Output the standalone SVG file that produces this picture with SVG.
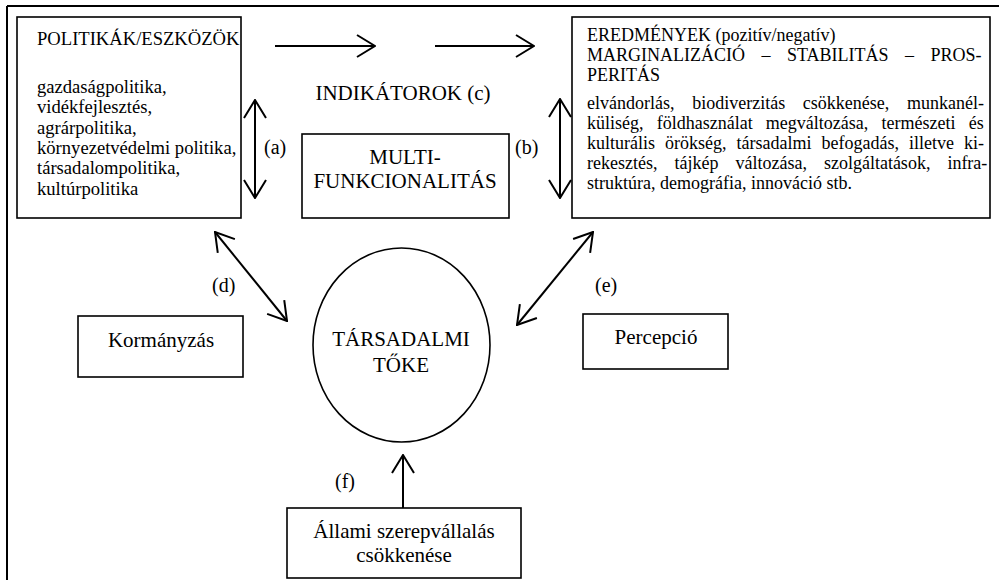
<svg xmlns="http://www.w3.org/2000/svg" width="999" height="580" viewBox="0 0 999 580">
  <defs>
    <marker id="head" viewBox="0 0 20 24" refX="19" refY="12" markerWidth="20" markerHeight="24" markerUnits="userSpaceOnUse" orient="auto-start-reverse">
      <path d="M1,1 L19,12 L1,23" fill="none" stroke="#000" stroke-width="2"/>
    </marker>
    <style>
      .box { fill: #fff; stroke: #000; stroke-width: 1.6; }
      .t { font-family: "Liberation Serif", "Times New Roman", serif; fill: #000; }
      .s18 { font-size: 18.6px; }
      .s18r { font-size: 18px; }
      .s21 { font-size: 21px; }
      .s20 { font-size: 20px; }
      .mid { text-anchor: middle; }
      .conn line { stroke: #000; stroke-width: 2; fill: none; }
    </style>
  </defs>
  <rect width="999" height="580" fill="#fff"/>
  <g id="frame">
    <line x1="7" y1="6" x2="999" y2="6" stroke="#000" stroke-width="2"/>
    <line x1="7" y1="6" x2="7" y2="580" stroke="#000" stroke-width="2"/>
  </g>

  <g id="politikak">
    <rect class="box" x="17" y="17" width="224" height="201"/>
    <text class="t s18" x="37" y="45">POLITIKÁK/ESZKÖZÖK</text>
    <text class="t s18" x="37" y="93">gazdaságpolitika,</text>
    <text class="t s18" x="37" y="113.3">vidékfejlesztés,</text>
    <text class="t s18" x="37" y="133.6">agrárpolitika,</text>
    <text class="t s18" x="37" y="153.9">környezetvédelmi politika,</text>
    <text class="t s18" x="37" y="174.2">társadalompolitika,</text>
    <text class="t s18" x="37" y="194.5">kultúrpolitika</text>
  </g>

  <g id="indikatorok">
    <text class="t s21 mid" x="403" y="100">INDIKÁTOROK (c)</text>
  </g>

  <g id="multifunkcionalitas">
    <rect class="box" x="302" y="134" width="207" height="84"/>
    <text class="t s21 mid" x="405" y="164">MULTI-</text>
    <text class="t s21 mid" x="405" y="188">FUNKCIONALITÁS</text>
  </g>

  <g id="eredmenyek">
    <rect class="box" x="572" y="17" width="418" height="201"/>
    <text class="t s18r" x="587" y="41">EREDMÉNYEK (pozitív/negatív)</text>
    <text class="t s18r" x="587" y="61" word-spacing="12">MARGINALIZÁCIÓ – STABILITÁS – PROS-</text>
    <text class="t s18r" x="587" y="81">PERITÁS</text>
    <text class="t s18r" x="587" y="109" word-spacing="13.2">elvándorlás, biodiverzitás csökkenése, munkanél-</text>
    <text class="t s18r" x="587" y="129" word-spacing="8.7">küliség, földhasználat megváltozása, természeti és</text>
    <text class="t s18r" x="587" y="149" word-spacing="5.5">kulturális örökség, társadalmi befogadás, illetve ki-</text>
    <text class="t s18r" x="587" y="169" word-spacing="12.5">rekesztés, tájkép változása, szolgáltatások, infra-</text>
    <text class="t s18r" x="587" y="189">struktúra, demográfia, innováció stb.</text>
  </g>

  <g id="kormanyzas">
    <rect class="box" x="78" y="316" width="165" height="61"/>
    <text class="t s21 mid" x="161" y="347">Kormányzás</text>
  </g>

  <g id="tarsadalmi-toke">
    <ellipse class="box" cx="401.5" cy="345" rx="88.5" ry="97"/>
    <text class="t s21 mid" x="401" y="346">TÁRSADALMI</text>
    <text class="t s21 mid" x="401" y="372">TŐKE</text>
  </g>

  <g id="percepcio">
    <rect class="box" x="583" y="314" width="145" height="55"/>
    <text class="t s21 mid" x="656" y="344">Percepció</text>
  </g>

  <g id="allami">
    <rect class="box" x="287" y="508" width="234" height="70"/>
    <text class="t s21 mid" x="404" y="538">Állami szerepvállalás</text>
    <text class="t s21 mid" x="404" y="562">csökkenése</text>
  </g>

  <g id="connectors" class="conn">
    <line x1="275" y1="46" x2="375" y2="46" marker-end="url(#head)"/>
    <line x1="435" y1="46" x2="534" y2="46" marker-end="url(#head)"/>
    <line x1="255" y1="100" x2="255" y2="198" marker-start="url(#head)" marker-end="url(#head)"/>
    <line x1="560" y1="99" x2="560" y2="198" marker-start="url(#head)" marker-end="url(#head)"/>
    <line x1="215" y1="232" x2="287" y2="321" marker-start="url(#head)" marker-end="url(#head)"/>
    <line x1="593" y1="232" x2="517" y2="325" marker-start="url(#head)" marker-end="url(#head)"/>
    <line x1="403" y1="508" x2="403" y2="455" marker-end="url(#head)"/>
  </g>

  <g id="labels">
    <text class="t s20" x="264" y="154">(a)</text>
    <text class="t s20" x="515" y="154">(b)</text>
    <text class="t s20" x="212" y="292">(d)</text>
    <text class="t s20" x="595" y="292">(e)</text>
    <text class="t s20" x="335" y="488">(f)</text>
  </g>
</svg>
